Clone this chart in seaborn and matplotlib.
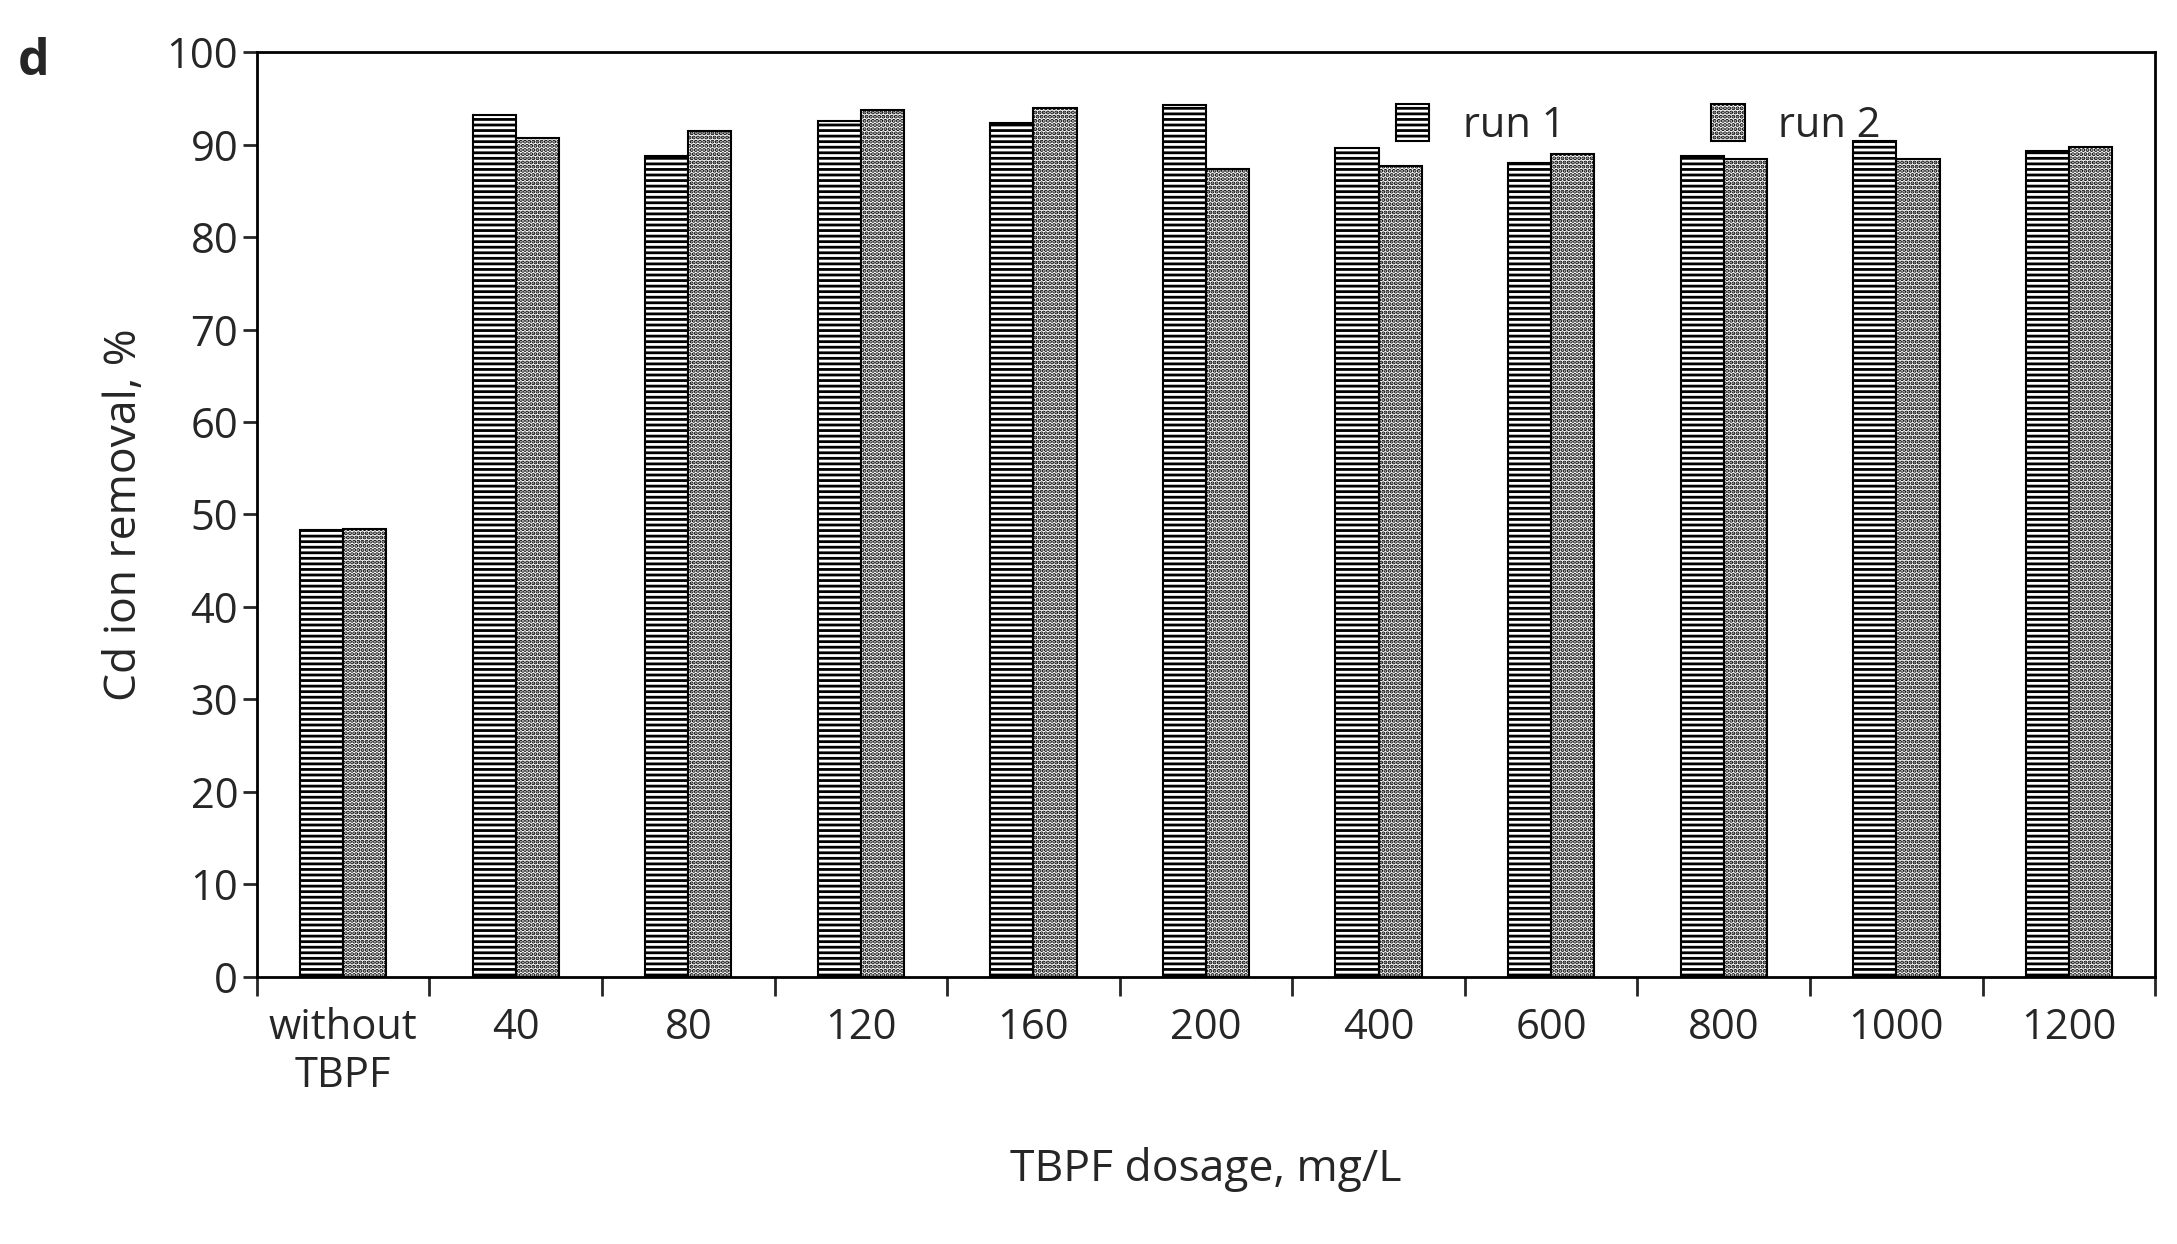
import matplotlib.pyplot as plt
import matplotlib as mpl
import seaborn as sns
import pandas as pd
import numpy as np

categories = ['without\nTBPF', '40', '80', '120', '160', '200', '400', '600', '800', '1000', '1200']
run1 = [48.3, 93.2, 88.8, 92.6, 92.3, 94.3, 89.6, 88.0, 88.8, 90.4, 89.3]
run2 = [48.4, 90.7, 91.5, 93.7, 94.0, 87.4, 87.7, 89.0, 88.5, 88.5, 89.8]

df = pd.DataFrame({
    'dosage': categories * 2,
    'value': run1 + run2,
    'run': ['run 1'] * len(categories) + ['run 2'] * len(categories),
})

sns.set_style('white')
plt.rcParams['font.family'] = ['Open Sans', 'DejaVu Sans']
plt.rcParams['hatch.linewidth'] = 2.0
mpl.rcParams['hatch.color'] = '#222222'

fig = plt.figure(figsize=(21.77, 12.44), dpi=100)
ax = fig.add_axes([0.118, 0.215, 0.872, 0.743])

sns.barplot(data=df, x='dosage', y='value', hue='run', order=categories,
            palette=['white', 'white'], edgecolor='black', linewidth=1.5,
            width=0.5, ax=ax, errorbar=None)

n = len(categories)
for i, p in enumerate(ax.patches[:2 * n]):
    if i < n:
        p.set_hatch('---')
    else:
        p.set_hatch('....')

handles = ax.patches[0], ax.patches[n]
leg = ax.legend(handles, ['run 1', 'run 2'], loc='upper right', ncol=2,
                frameon=False, fontsize=30, bbox_to_anchor=(0.875, 0.985),
                handlelength=0.8, handleheight=1.0, columnspacing=3.5)

ax.set_ylim(0, 100)
ax.set_xlim(-0.5, n - 0.5)
ax.set_yticks(np.arange(0, 101, 10))
ax.tick_params(axis='y', labelsize=30, direction='out', length=10, width=2, left=True)
ax.tick_params(axis='x', which='major', labelsize=30, length=0, pad=22)
ax.set_xticks(np.arange(-0.5, n, 1.0), minor=True)
ax.tick_params(axis='x', which='minor', direction='out', length=14, width=2, bottom=True)

for s in ax.spines.values():
    s.set_linewidth(2)
    s.set_color('black')

ax.set_xlabel('TBPF dosage, mg/L', fontsize=32, labelpad=36)
ax.set_ylabel('Cd ion removal, %', fontsize=32, labelpad=14)
fig.text(0.008, 0.94, 'd', fontsize=36, fontweight='bold')

fig.savefig('out.png', dpi=100)
